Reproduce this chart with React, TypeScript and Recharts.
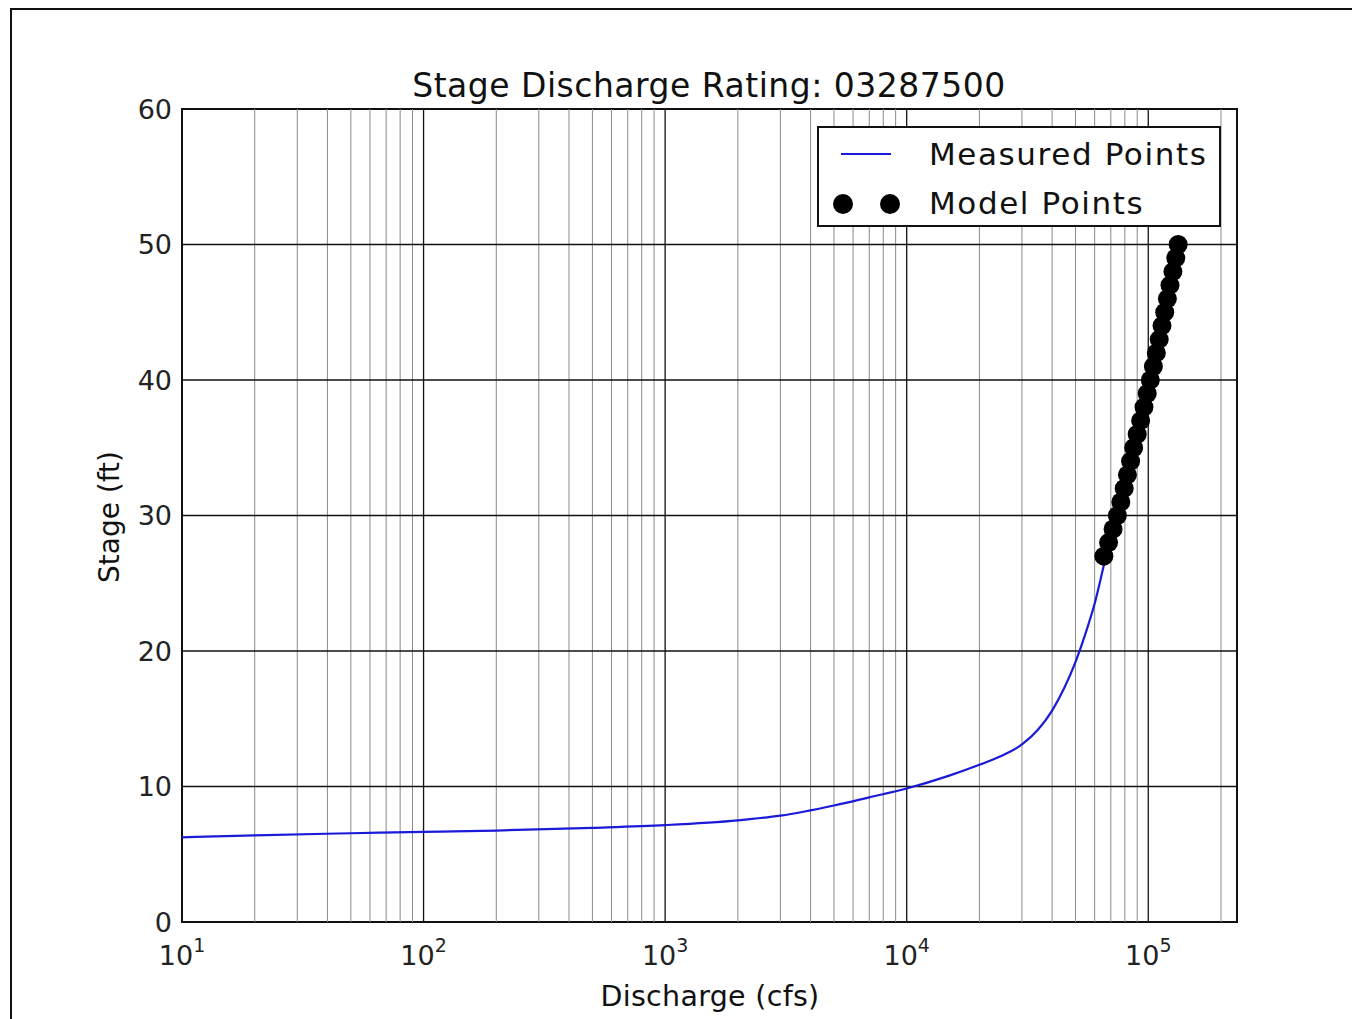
import {
  ComposedChart, Line, Scatter, XAxis, YAxis, ReferenceLine, ReferenceArea, Legend,
} from 'recharts'

// measured rating curve (discharge cfs, stage ft)
const measuredQ = [10, 20, 50, 100, 200, 500, 1000, 2000, 3000, 5000, 7000, 10000, 15000, 20000, 25000, 30000, 35000, 40000, 45000, 50000, 55000, 60000, 66000]
const measuredStage = [6.25, 6.4, 6.55, 6.65, 6.75, 6.95, 7.15, 7.5, 7.85, 8.6, 9.2, 9.85, 10.8, 11.6, 12.3, 13.1, 14.2, 15.6, 17.3, 19.2, 21.3, 23.5, 26.6]

// model points
const modelQ = [65500, 68500, 71500, 74500, 77000, 79500, 82000, 84500, 87000, 90000, 93000, 96000, 99000, 102000, 105000, 108000, 111000, 114000, 117000, 120000, 123000, 126500, 130000, 133000]
const modelStage = [27, 28, 29, 30, 31, 32, 33, 34, 35, 36, 37, 38, 39, 40, 41, 42, 43, 44, 45, 46, 47, 48, 49, 50]

const xTicks = [10, 100, 1000, 10000, 100000]
const xTickExp = ['1', '2', '3', '4', '5']
const yTicks = [0, 10, 20, 30, 40, 50, 60]

const measured = measuredQ.map((q, i) => ({ q, stage: measuredStage[i] }))
const model = modelQ.map((q, i) => ({ q, stage: modelStage[i] }))

const X_MIN = 10
const X_MAX = 233000
const FONT = '"DejaVu Sans", sans-serif'

const minorX: number[] = []
for (const d of [10, 100, 1000, 10000, 100000]) {
  for (let m = 2; m <= 9; m++) {
    if (d * m <= X_MAX) minorX.push(d * m)
  }
}

function XTick(props: any) {
  const { x, y, payload } = props
  const i = xTicks.indexOf(payload.value)
  return (
    <text x={x} y={y + 35} textAnchor="middle" fontFamily={FONT} fontSize={27} fill="#222">
      10<tspan dy={-13} fontSize={19}>{xTickExp[i]}</tspan>
    </text>
  )
}

function YTick(props: any) {
  const { x, y, payload } = props
  return (
    <text x={x - 2} y={y} textAnchor="end" dominantBaseline="central" fontFamily={FONT} fontSize={27} fill="#222">
      {payload.value}
    </text>
  )
}

function LegendBox() {
  return (
    <div style={{
      width: 400, height: 97, border: '2px solid #111', background: '#fff',
      fontFamily: FONT, fontSize: 31, letterSpacing: 1.6, color: '#111', position: 'relative',
    }}>
      <svg width={100} height={97} style={{ position: 'absolute', left: 0, top: 0 }}>
        <line x1={22} x2={72} y1={26} y2={26} stroke="#1a1ad8" strokeWidth={2} />
        <circle cx={24} cy={76} r={10} fill="#000" />
        <circle cx={71} cy={76} r={10} fill="#000" />
      </svg>
      <div style={{ position: 'absolute', left: 110, top: 8, lineHeight: '36px' }}>Measured Points</div>
      <div style={{ position: 'absolute', left: 110, top: 57, lineHeight: '36px' }}>Model Points</div>
    </div>
  )
}

export default function App() {
  return (
    <div style={{ position: 'relative', width: 1352, height: 1011 }}>
      <div style={{ position: 'absolute', left: 2, top: 0, width: 1350, height: 2, background: '#111' }} />
      <div style={{ position: 'absolute', left: 2, top: 0, width: 2, height: 1011, background: '#111' }} />
      <ComposedChart
        width={1352}
        height={1011}
        margin={{ top: 101, right: 123, bottom: 37, left: 0 }}
        style={{ position: 'absolute', left: 0, top: 0 }}
      >
        <XAxis
          type="number"
          dataKey="q"
          scale="log"
          domain={[X_MIN, X_MAX]}
          allowDataOverflow
          ticks={xTicks}
          tick={<XTick />}
          tickLine={false}
          axisLine={false}
          height={60}
          interval={0}
        />
        <YAxis
          type="number"
          dataKey="stage"
          domain={[0, 60]}
          ticks={yTicks}
          tick={<YTick />}
          tickLine={false}
          axisLine={false}
          width={174}
          interval={0}
        />
        {minorX.map((v) => (
          <ReferenceLine key={'m' + v} x={v} stroke="#8a8a8a" strokeWidth={1} />
        ))}
        {xTicks.map((v) => (
          <ReferenceLine key={'M' + v} x={v} stroke="#111" strokeWidth={1.3} />
        ))}
        {yTicks.slice(1, -1).map((v) => (
          <ReferenceLine key={'y' + v} y={v} stroke="#111" strokeWidth={1.3} />
        ))}
        <ReferenceArea x1={X_MIN} x2={X_MAX} y1={0} y2={60} fill="none" stroke="#111" strokeWidth={2} />
        <Line
          data={measured}
          dataKey="stage"
          type="monotone"
          stroke="#1a1ad8"
          strokeWidth={2.2}
          dot={false}
          isAnimationActive={false}
        />
        <Scatter
          data={model}
          fill="#000"
          shape={(p: any) => <circle cx={p.cx} cy={p.cy} r={9.5} fill="#000" />}
          isAnimationActive={false}
        />
        <Legend
          layout="vertical"
          align="center"
          verticalAlign="middle"
          content={<LegendBox />}
          wrapperStyle={{ position: 'absolute', left: 809, top: 118, width: 404, height: 101 }}
        />
        <text x={701} y={89} textAnchor="middle" fontFamily={FONT} fontSize={33} letterSpacing={0.5} fill="#111">
          Stage Discharge Rating: 03287500
        </text>
        <text x={702} y={998} textAnchor="middle" fontFamily={FONT} fontSize={28.5} letterSpacing={0.3} fill="#111">
          Discharge (cfs)
        </text>
        <text
          x={101}
          y={509}
          textAnchor="middle"
          dominantBaseline="central"
          transform="rotate(-90 101 509)"
          fontFamily={FONT}
          fontSize={28}
          fill="#111"
        >
          Stage (ft)
        </text>
      </ComposedChart>
    </div>
  )
}
